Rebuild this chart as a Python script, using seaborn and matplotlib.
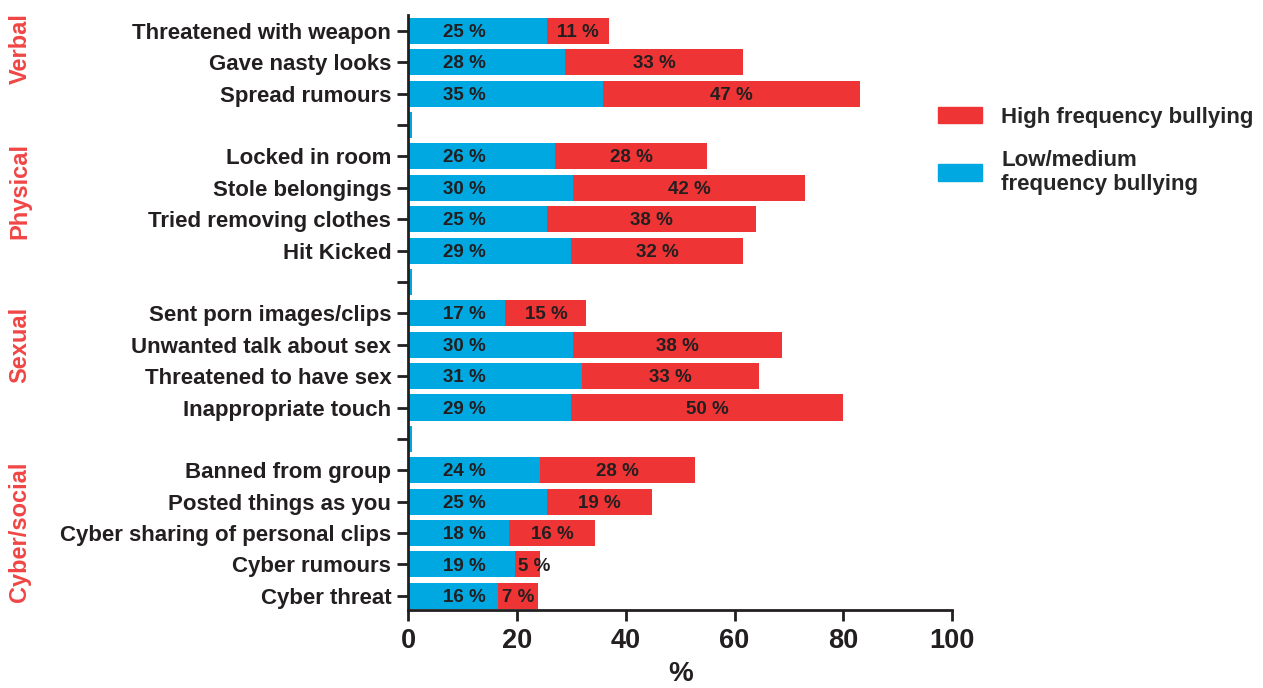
import matplotlib
matplotlib.use("Agg")
import matplotlib.pyplot as plt
import matplotlib.patches as mpatches
import matplotlib.transforms as mtransforms
import seaborn as sns
import pandas as pd

# rows top to bottom; "" rows are the spacers between groups
items = ["Threatened with weapon", "Gave nasty looks", "Spread rumours", "",
         "Locked in room", "Stole belongings", "Tried removing clothes", "Hit Kicked", "",
         "Sent porn images/clips", "Unwanted talk about sex", "Threatened to have sex",
         "Inappropriate touch", "",
         "Banned from group", "Posted things as you", "Cyber sharing of personal clips",
         "Cyber rumours", "Cyber threat"]
low_med = [25.6, 28.9, 35.9, 0.7,
           27.1, 30.4, 25.6, 30.0, 0.7,
           17.9, 30.4, 31.9, 30.0, 0.7,
           24.3, 25.6, 18.6, 19.7, 16.6]
high = [11.4, 32.6, 47.2, 0,
        27.8, 42.5, 38.3, 31.5, 0,
        14.9, 38.3, 32.6, 49.9, 0,
        28.4, 19.2, 15.8, 4.6, 7.2]
low_labels = ["25 %", "28 %", "35 %", "",
              "26 %", "30 %", "25 %", "29 %", "",
              "17 %", "30 %", "31 %", "29 %", "",
              "24 %", "25 %", "18 %", "19 %", "16 %"]
high_labels = ["11 %", "33 %", "47 %", "",
               "28 %", "42 %", "38 %", "32 %", "",
               "15 %", "38 %", "33 %", "50 %", "",
               "28 %", "19 %", "16 %", "5 %", "7 %"]
groups = ["Verbal", "Physical", "Sexual", "Cyber/social"]
group_pos = [0.55, 5.1, 10.0, 15.95]
x_ticks = [0, 20, 40, 60, 80, 100]

BLUE = "#00a8e2"
RED = "#ee3435"
DARK = "#231f20"
GROUP_RED = "#f04545"
NARROW = ["Liberation Sans Narrow", "Liberation Sans", "DejaVu Sans"]

keys = [f"r{i}" for i in range(len(items))]
df = pd.DataFrame({"key": keys, "low": low_med, "high": high})
df["total"] = df["low"] + df["high"]

sns.set_theme(style="white")
plt.rcParams["font.family"] = ["Liberation Sans", "DejaVu Sans"]

fig = plt.figure(figsize=(12.63, 6.88), dpi=100)
ax = fig.add_axes([0.323, 0.1134, 0.431, 0.8646])

sns.barplot(data=df, y="key", x="total", order=keys, color=RED, saturation=1,
            width=0.83, orient="h", linewidth=0, ax=ax)
sns.barplot(data=df, y="key", x="low", order=keys, color=BLUE, saturation=1,
            width=0.83, orient="h", linewidth=0, ax=ax)

for i in range(len(items)):
    if low_labels[i]:
        ax.text(10.3, i + 0.05, low_labels[i], ha="center", va="center",
                fontsize=13.5, fontweight="bold", color=DARK)
    if high_labels[i]:
        cx = df["low"][i] + df["high"][i] / 2
        if df["high"][i] < 6:
            cx += 1.2
        ax.text(cx, i + 0.05, high_labels[i], ha="center", va="center",
                fontsize=13.5, fontweight="bold", color=DARK)

ax.set_xlim(0, 100)
ax.set_ylim(len(items) - 0.55, -0.5)
ax.set_xticks(x_ticks)
ax.set_xticklabels([str(t) for t in x_ticks], family=NARROW,
                   fontsize=19.5, fontweight="bold", color=DARK)
ax.set_yticks(range(len(items)))
ax.set_yticklabels(items, fontsize=16, fontweight="bold", color=DARK)
ax.set_ylabel("")
ax.set_xlabel("%", family=NARROW, fontsize=20, fontweight="bold", color=DARK,
              labelpad=5)

sns.despine(ax=ax)
for s in ["left", "bottom"]:
    ax.spines[s].set_color(DARK)
    ax.spines[s].set_linewidth(2)
ax.tick_params(axis="both", which="major", direction="out", length=8, width=2,
               color=DARK, left=True, bottom=True)
ax.tick_params(axis="y", pad=4)
ax.tick_params(axis="x", pad=5)

# group names at the far left, aligned to the row positions
trans = mtransforms.blended_transform_factory(fig.transFigure, ax.transData)
for g, p in zip(groups, group_pos):
    ax.text(20 / 1263, p, g, transform=trans, rotation=90, ha="center", va="center",
            fontsize=17, fontweight="bold", color=GROUP_RED)

handles = [mpatches.Patch(color=RED, label="High frequency bullying"),
           mpatches.Patch(color=BLUE, label="Low/medium\nfrequency bullying")]
fig.legend(handles=handles, loc="upper left", bbox_to_anchor=(0.7427, 0.845),
           frameon=False, prop={"size": 16, "weight": "bold"},
           borderpad=0, borderaxespad=0,
           handlelength=2.0, handleheight=0.77, labelspacing=1.0, handletextpad=0.85)

fig.savefig("out.png", dpi=100)
